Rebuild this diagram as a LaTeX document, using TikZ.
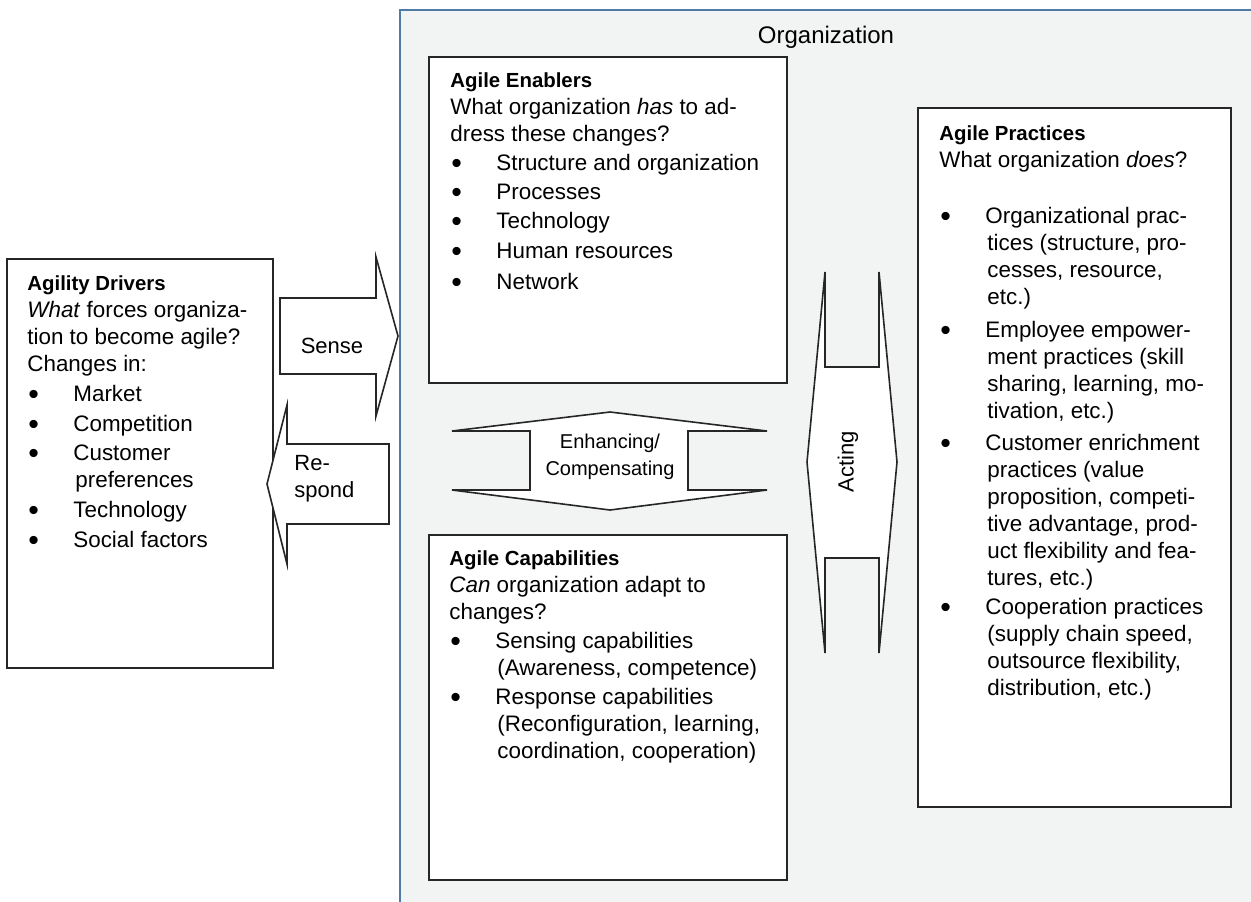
\documentclass[tikz,border=0pt]{standalone}
\usepackage{graphicx}
\usepackage{fontspec}
\setmainfont{Liberation Sans}
\usetikzlibrary{fit}
\definecolor{orgfill}{HTML}{F2F4F3}
\definecolor{orgline}{HTML}{4F7BA8}
\definecolor{boxline}{HTML}{262626}
\newcommand\bu[1]{\makebox[23pt][l]{\hspace{0.5pt}\raisebox{-1.8pt}{\scalebox{1.35}{\textbullet}}}#1}
\newcommand\cn[1]{\hspace*{24pt}#1}
\newcommand\hd[1]{{\fontsize{10.2}{13.5}\selectfont\bfseries #1}}
\newcommand\bodyfont{\fontsize{11.2}{13.5}\selectfont}
\begin{document}
\begin{tikzpicture}[x=0.5pt,y=-0.5pt,
  orgst/.style={draw=orgline,fill=orgfill,line width=0.8pt,inner sep=0pt},
  boxst/.style={draw=boxline,fill=white,line width=0.9pt,inner sep=0pt},
  arrst/.style={draw=boxline,fill=white,line width=0.8pt,line join=miter},
  txt/.style={anchor=base west,inner sep=0pt,font=\bodyfont},
  lbl/.style={inner sep=0pt,font=\fontsize{11}{13.5}\selectfont}]
\useasboundingbox (0,0) rectangle (1251,901);
\clip (0,0) rectangle (1251,901);
\node[orgst, fit={(400,10) (1290,940)}] (org) {};
\node[anchor=base, inner sep=0pt, font=\fontsize{12}{14}\selectfont] (orgT) at (826,43) {Organization};
% boxes
\node[boxst, fit={(7,259) (273,668)}] (drv) {};
\node[boxst, fit={(429,57) (787,383)}] (enb) {};
\node[boxst, fit={(429,535) (787,880)}] (cap) {};
\node[boxst, fit={(918,108) (1231,807)}] (prc) {};
% block arrows
\draw[arrst] (280,298) -- (376,298) -- (376,257) -- (398,336) -- (376,416) -- (376,374) -- (280,374) -- cycle;
\draw[arrst] (267,484) -- (287,405) -- (287,444) -- (389,444) -- (389,524) -- (287,524) -- (287,564) -- cycle;
\draw[arrst] (452,431) -- (610,412) -- (767,431) -- (688,431) -- (688,490) -- (767,490) -- (610,510) -- (452,490) -- (530,490) -- (530,431) -- cycle;
\draw[arrst] (807,462) -- (825,272) -- (825,367) -- (879,367) -- (879,272) -- (897,462) -- (879,653) -- (879,558) -- (825,558) -- (825,653) -- cycle;
% arrow labels
\node[lbl, anchor=base] (sense) at (332,353) {Sense};
\node[lbl, anchor=base west] (resp) at (294,470) {\parbox[t]{60pt}{Re-\\spond}};
\node[lbl, anchor=base, font=\fontsize{10}{13.5}\selectfont] (enh) at (610,448) {\parbox[t]{100pt}{\centering Enhancing/\\Compensating}};
\node[lbl, rotate=90] (act) at (848,462) {Acting};
% box texts
\node[txt] (drvT) at (27,290) {\parbox[t]{200pt}{\hd{Agility Drivers}\\
\textit{What} forces organiza-\\
tion to become agile?\\
Changes in:\\[1.5pt]
\bu{Market}\\[1.5pt]
\bu{Competition}\\[1pt]
\bu{Customer}\\
\cn{preferences}\\[1.5pt]
\bu{Technology}\\[1.5pt]
\bu{Social factors}}};
\node[txt] (enbT) at (450,87) {\parbox[t]{220pt}{\hd{Agile Enablers}\\
What organization \textit{has} to ad-\\
dress these changes?\\[1pt]
\bu{Structure and organization}\\[1pt]
\bu{Processes}\\[1pt]
\bu{Technology}\\[1.5pt]
\bu{Human resources}\\[2pt]
\bu{Network}}};
\node[txt] (capT) at (449,565) {\parbox[t]{220pt}{\hd{Agile Capabilities}\\
\textit{Can} organization adapt to\\
changes?\\[1pt]
\bu{Sensing capabilities}\\
\cn{(Awareness, competence)}\\[1pt]
\bu{Response capabilities}\\
\cn{(Reconfiguration, learning,}\\
\cn{coordination, cooperation)}}};
\node[txt] (prcT) at (939,140) {\parbox[t]{220pt}{\hd{Agile Practices}\\
What organization \textit{does}?\\[14.5pt]
\bu{Organizational prac-}\\
\cn{tices (structure, pro-}\\
\cn{cesses, resource,}\\
\cn{etc.)}\\[3pt]
\bu{Employee empower-}\\
\cn{ment practices (skill}\\
\cn{sharing, learning, mo-}\\
\cn{tivation, etc.)}\\[2.5pt]
\bu{Customer enrichment}\\
\cn{practices (value}\\
\cn{proposition, competi-}\\
\cn{tive advantage, prod-}\\
\cn{uct flexibility and fea-}\\
\cn{tures, etc.)}\\[1pt]
\bu{Cooperation practices}\\
\cn{(supply chain speed,}\\
\cn{outsource flexibility,}\\
\cn{distribution, etc.)}}};
\end{tikzpicture}
\end{document}
